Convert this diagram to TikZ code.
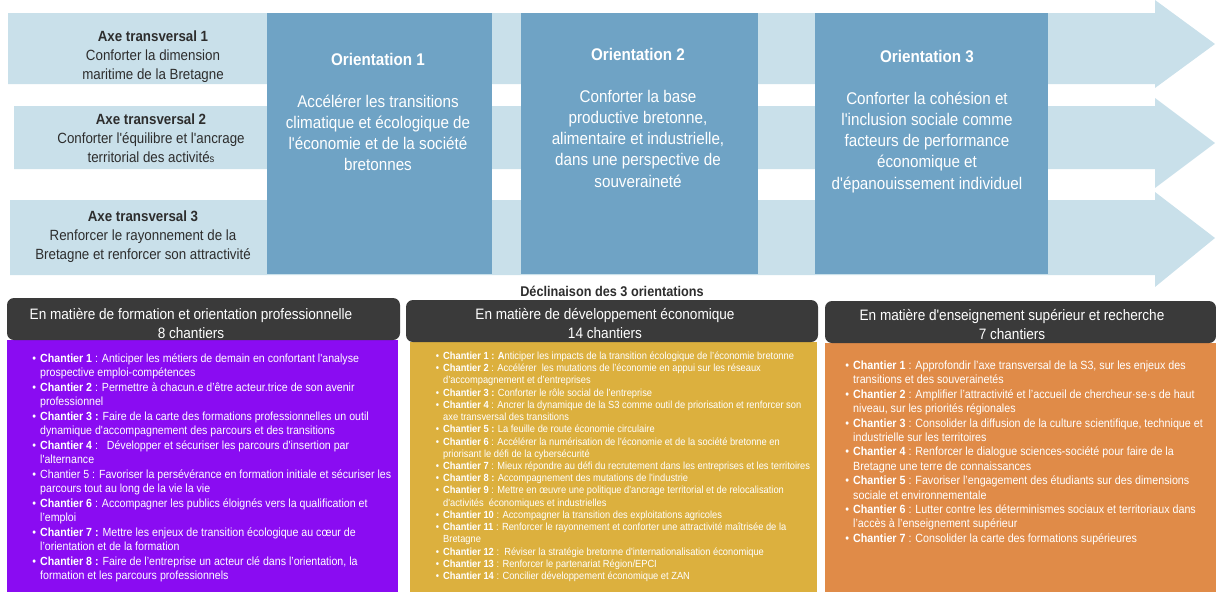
\documentclass[tikz,border=0pt]{standalone}
\usepackage{fontspec}
\setmainfont{Liberation Sans}[FakeStretch=0.9,Ligatures=TeXOff]
\definecolor{bandblue}{RGB}{201,224,234}
\definecolor{orientblue}{RGB}{111,163,197}
\definecolor{axegray}{RGB}{45,45,45}
\definecolor{headdark}{RGB}{58,58,58}
\definecolor{purp}{RGB}{138,12,242}
\definecolor{gold}{RGB}{220,176,62}
\definecolor{orng}{RGB}{224,139,72}
\newcommand\ctxt[2]{\parbox[t]{#1}{\centering #2}}
\newcommand\ltxt[2]{\parbox[t]{#1}{\raggedright #2}}
\newcommand\bul{\par\noindent\llap{\textbullet\hspace{4pt}}}
\begin{document}
\begin{tikzpicture}[x=1pt,y=-1pt,
  band/.style={fill=bandblue,draw=none},
  orientbox/.style={fill=orientblue,draw=none},
  axetxt/.style={anchor=base,inner sep=0,text=axegray,font=\fontsize{14.8}{19}\selectfont},
  orienttxt/.style={anchor=base,inner sep=0,text=white,font=\fontsize{16.9}{21.3}\selectfont},
  headbox/.style={fill=headdark,draw=none,rounded corners=7pt},
  headtxt/.style={anchor=base,inner sep=0,text=white,font=\fontsize{15.1}{19}\selectfont},
  listtxt/.style={anchor=base west,inner sep=0,text=white}
]
\useasboundingbox (0,0) rectangle (1216,592);
% arrow bands
\fill[band] (8,13) -- (1155,13) -- (1155,0) -- (1215,44) -- (1155,88) -- (1155,84) -- (8,84) -- cycle;
\fill[band] (14,106) -- (1155,106) -- (1155,98) -- (1215,143) -- (1155,188) -- (1155,169) -- (14,169) -- cycle;
\fill[band] (10,200) -- (1155,200) -- (1155,192) -- (1215,238) -- (1155,287) -- (1155,275) -- (10,275) -- cycle;
% orientation boxes
\fill[orientbox] (267,13) rectangle (492,274);
\fill[orientbox] (521,13) rectangle (758,274);
\fill[orientbox] (815,13) rectangle (1048,274);
% axes
\node[axetxt] (axe1) at (153,41.5) {\ctxt{240pt}{\textbf{Axe transversal 1}\\Conforter la dimension\\maritime de la Bretagne}};
\node[axetxt] (axe2) at (151,124) {\ctxt{240pt}{\textbf{Axe transversal 2}\\Conforter l'équilibre et l'ancrage\\territorial des activité{\fontsize{10.5}{10}\selectfont s}}};
\node[axetxt] (axe3) at (143,221) {\ctxt{240pt}{\textbf{Axe transversal 3}\\Renforcer le rayonnement de la\\Bretagne et renforcer son attractivité}};
% orientations
\node[orienttxt] (o1t) at (378,65) {\textbf{Orientation 1}};
\node[orienttxt] (o1) at (378,107) {\ctxt{220pt}{Accélérer les transitions\\climatique et écologique de\\l'économie et de la société\\bretonnes}};
\node[orienttxt] (o2t) at (638,60) {\textbf{Orientation 2}};
\node[orienttxt] (o2) at (638,102) {\ctxt{230pt}{Conforter la base\\productive bretonne,\\alimentaire et industrielle,\\dans une perspective de\\souveraineté}};
\node[orienttxt] (o3t) at (927,62) {\textbf{Orientation 3}};
\node[orienttxt] (o3) at (927,104) {\ctxt{230pt}{Conforter la cohésion et\\l'inclusion sociale comme\\facteurs de performance\\économique et\\d'épanouissement individuel}};
% title
\node[anchor=base,inner sep=0,text=axegray,font=\fontsize{14.1}{16}\selectfont\bfseries] (decl) at (612,296) {Déclinaison des 3 orientations};
% bottom boxes
\fill[purp] (7,340) rectangle (398,592);
\fill[gold] (410,342) rectangle (817,592);
\fill[orng] (825,343) rectangle (1216,592);
\fill[headbox] (7,298) rectangle (400,340);
\fill[headbox] (406,300) rectangle (818,342);
\fill[headbox] (825,301) rectangle (1216,343);
\node[headtxt] (h1) at (191,319) {\ctxt{390pt}{En matière de formation et orientation professionnelle\\8 chantiers}};
\node[headtxt] (h2) at (605,319) {\ctxt{400pt}{En matière de développement économique\\14 chantiers}};
\node[headtxt] (h3) at (1012,320) {\ctxt{390pt}{En matière d'enseignement supérieur et recherche\\7 chantiers}};
% lists
\node[listtxt,font=\fontsize{11.8}{14.53}\selectfont] (l1) at (40,362) {\ltxt{370pt}{%
\bul\textbf{Chantier 1} : Anticiper les métiers de demain en confortant l'analyse\\prospective emploi-compétences
\bul\textbf{Chantier 2} : Permettre à chacun.e d’être acteur.trice de son avenir\\professionnel
\bul\textbf{Chantier 3 :} Faire de la carte des formations professionnelles un outil\\dynamique d'accompagnement des parcours et des transitions
\bul\textbf{Chantier 4} :\ \ \ Développer et sécuriser les parcours d'insertion par\\l'alternance
\bul Chantier 5 : Favoriser la persévérance en formation initiale et sécuriser les\\parcours tout au long de la vie la vie
\bul\textbf{Chantier 6} : Accompagner les publics éloignés vers la qualification et\\l’emploi
\bul\textbf{Chantier 7 :} Mettre les enjeux de transition écologique au cœur de\\l’orientation et de la formation
\bul\textbf{Chantier 8 :} Faire de l’entreprise un acteur clé dans l’orientation, la\\formation et les parcours professionnels}};
\node[listtxt,font=\fontsize{10.35}{12.22}\selectfont] (l2) at (443,359.5) {\ltxt{390pt}{%
\bul\textbf{Chantier 1 : A}nticiper les impacts de la transition écologique de l’économie bretonne
\bul\textbf{Chantier 2} : Accélérer\ \ les mutations de l’économie en appui sur les réseaux\\d’accompagnement et d’entreprises
\bul\textbf{Chantier 3 :} Conforter le rôle social de l’entreprise
\bul\textbf{Chantier 4} : Ancrer la dynamique de la S3 comme outil de priorisation et renforcer son\\axe transversal des transitions
\bul\textbf{Chantier 5 :} La feuille de route économie circulaire
\bul\textbf{Chantier 6} : Accélérer la numérisation de l'économie et de la société bretonne en\\priorisant le défi de la cybersécurité
\bul\textbf{Chantier 7} : Mieux répondre au défi du recrutement dans les entreprises et les territoires
\bul\textbf{Chantier 8 :} Accompagnement des mutations de l'industrie
\bul\textbf{Chantier 9} : Mettre en œuvre une politique d'ancrage territorial et de relocalisation\\d'activités\ \ économiques et industrielles
\bul\textbf{Chantier 10} : Accompagner la transition des exploitations agricoles
\bul\textbf{Chantier 11} : Renforcer le rayonnement et conforter une attractivité maîtrisée de la\\Bretagne
\bul\textbf{Chantier 12} :\ \ Réviser la stratégie bretonne d'internationalisation économique
\bul\textbf{Chantier 13} : Renforcer le partenariat Région/EPCI
\bul\textbf{Chantier 14} : Concilier développement économique et ZAN}};
\node[listtxt,font=\fontsize{11.9}{14.4}\selectfont] (l3) at (853,369.5) {\ltxt{370pt}{%
\bul\textbf{Chantier 1} : Approfondir l’axe transversal de la S3, sur les enjeux des\\transitions et des souverainetés
\bul\textbf{Chantier 2} : Amplifier l’attractivité et l’accueil de chercheur·se·s de haut\\niveau, sur les priorités régionales
\bul\textbf{Chantier 3} : Consolider la diffusion de la culture scientifique, technique et\\industrielle sur les territoires
\bul\textbf{Chantier 4} : Renforcer le dialogue sciences-société pour faire de la\\Bretagne une terre de connaissances
\bul\textbf{Chantier 5} : Favoriser l’engagement des étudiants sur des dimensions\\sociale et environnementale
\bul\textbf{Chantier 6} : Lutter contre les déterminismes sociaux et territoriaux dans\\l’accès à l’enseignement supérieur
\bul\textbf{Chantier 7} : Consolider la carte des formations supérieures}};
\end{tikzpicture}
\end{document}
